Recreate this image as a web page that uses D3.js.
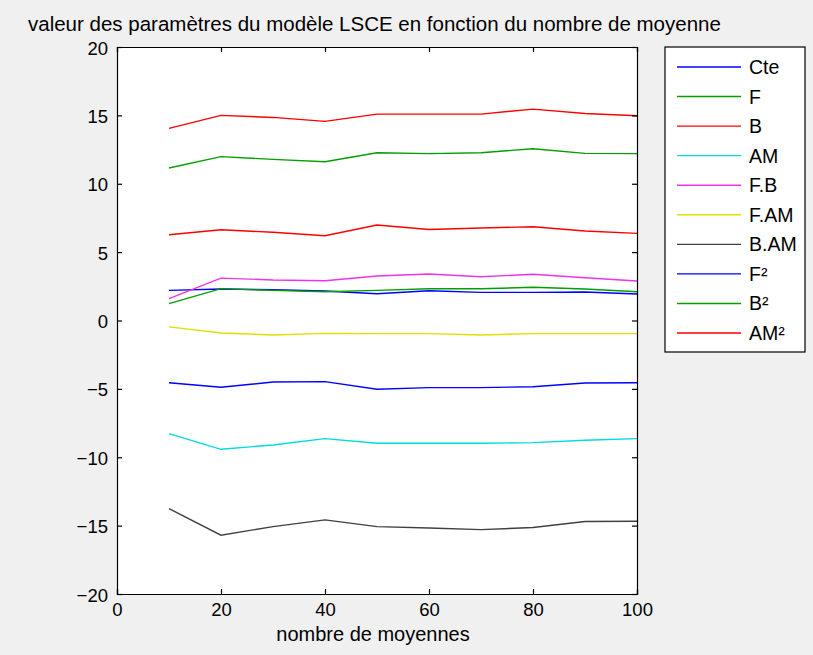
<!DOCTYPE html>
<html><head><meta charset="utf-8">
<script src="https://cdn.jsdelivr.net/npm/d3@7"></script>
<style>body{margin:0;background:#f0f0f0;}svg{display:block;}text{font-family:"Liberation Sans",Arial,sans-serif;fill:#000;}</style>
</head><body>
<svg id="c" width="813" height="655"></svg>
<script>
const xValues = [10,20,30,40,50,60,70,80,90,100];
const seriesNames = ["Cte","F","B","AM","F.B","F.AM","B.AM","F²","B²","AM²"];
const seriesColors = ["#0000ff","#00a000","#ff0000","#00dcdc","#ee33ee","#e0e000","#404040","#0000ff","#00a000","#ff0000"];
const Cte  = [2.20,2.30,2.25,2.16,1.96,2.18,2.06,2.06,2.08,1.94];
const F    = [11.15,11.98,11.78,11.61,12.27,12.20,12.27,12.56,12.22,12.20];
const B    = [14.05,15.00,14.85,14.56,15.09,15.09,15.09,15.46,15.14,14.97];
const AM   = [-8.27,-9.42,-9.10,-8.64,-8.98,-8.98,-8.98,-8.93,-8.76,-8.64];
const FB   = [1.60,3.10,2.96,2.91,3.25,3.40,3.20,3.38,3.13,2.89];
const FAM  = [-0.47,-0.91,-1.06,-0.94,-0.96,-0.96,-1.06,-0.96,-0.96,-0.96];
const BAM  = [-13.76,-15.70,-15.07,-14.58,-15.07,-15.17,-15.29,-15.14,-14.70,-14.68];
const F2   = [-4.55,-4.88,-4.50,-4.47,-5.03,-4.91,-4.91,-4.84,-4.57,-4.55];
const B2   = [1.23,2.33,2.20,2.10,2.20,2.32,2.32,2.43,2.30,2.10];
const AM2  = [6.27,6.64,6.45,6.20,6.98,6.66,6.76,6.86,6.54,6.37];
const xTicks = [0,20,40,60,80,100];
const yTicks = [-20,-15,-10,-5,0,5,10,15,20];
const titleText = "valeur des paramètres du modèle LSCE en fonction du nombre de moyenne";
const xLabel = "nombre de moyennes";

const allSeries = [Cte,F,B,AM,FB,FAM,BAM,F2,B2,AM2];
const svg = d3.select("#c");
const L=117, R=637, T=47, Bm=594;
const x = d3.scaleLinear().domain([0,100]).range([L,R]);
const y = d3.scaleLinear().domain([-20,20]).range([Bm,T]);

svg.append("rect").attr("x",L).attr("y",T).attr("width",R-L).attr("height",Bm-T).attr("fill","#fff");

const line = d3.line().x((d,i)=>x(xValues[i])).y(d=>y(d));
allSeries.forEach((s,k)=>{
  svg.append("path").datum(s).attr("d",line).attr("fill","none")
    .attr("stroke",seriesColors[k]).attr("stroke-width",1.4);
});

// axes
const fs = 18.5;
const gB = svg.append("g").attr("transform",`translate(0,${Bm})`)
  .call(d3.axisBottom(x).tickValues(xTicks).tickSize(-5).tickPadding(9).tickFormat(d3.format("d")));
const gT = svg.append("g").attr("transform",`translate(0,${T})`)
  .call(d3.axisTop(x).tickValues(xTicks).tickSize(-5).tickFormat(""));
const gL = svg.append("g").attr("transform",`translate(${L},0)`)
  .call(d3.axisLeft(y).tickValues(yTicks).tickSize(-5).tickPadding(9).tickFormat(d3.format("d")));
const gR = svg.append("g").attr("transform",`translate(${R},0)`)
  .call(d3.axisRight(y).tickValues(yTicks).tickSize(-5).tickFormat(""));
[gB,gT,gL,gR].forEach(g=>{
  g.select(".domain").attr("stroke","#000").attr("stroke-width",1.2);
  g.selectAll(".tick line").attr("stroke","#000").attr("stroke-width",1.2);
  g.selectAll(".tick text").attr("font-size",fs).attr("font-family","Liberation Sans, Arial, sans-serif").attr("fill","#000");
});
gL.selectAll(".tick text").attr("dy","0.38em");

svg.append("text").attr("x",28).attr("y",31).attr("font-size",20.5).text(titleText);
svg.append("text").attr("x",(L+R)/2 - 4).attr("y",641).attr("text-anchor","middle").attr("font-size",20).text(xLabel);

// legend
const lg = svg.append("g");
lg.append("rect").attr("x",665).attr("y",47).attr("width",140).attr("height",305)
  .attr("fill","#fff").attr("stroke","#000").attr("stroke-width",1.2);
const ly = d3.scalePoint().domain(seriesNames).range([67,333]);
seriesNames.forEach((n,k)=>{
  lg.append("line").attr("x1",677).attr("x2",741).attr("y1",ly(n)).attr("y2",ly(n))
    .attr("stroke",seriesColors[k]).attr("stroke-width",1.4);
  lg.append("text").attr("x",749).attr("y",ly(n)).attr("dy","0.36em").attr("font-size",19.5).text(n);
});
</script>
</body></html>
